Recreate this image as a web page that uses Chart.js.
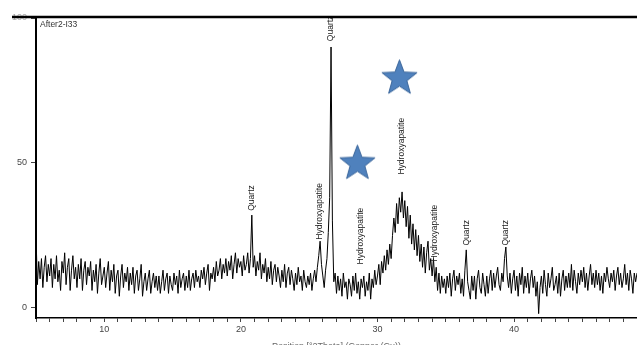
<!DOCTYPE html>
<html>
<head>
<meta charset="utf-8">
<script src="https://cdn.jsdelivr.net/npm/chart.js@4"></script>
<style>
  html, body { margin: 0; padding: 0; background: #fff; overflow: hidden; }
  canvas { display: block; }
</style>
</head>
<body>
<canvas id="xrdChart" width="637" height="352"></canvas>
<script>
// scan: 5.0 to 49.0 deg 2theta, 0.1 deg step
var scanStart = 5.0;
var scanStep = 0.1;

// counts, one row per degree
var counts = [
  25,8,16,10,17,7,14,18,9,15,
  11,17,7,15,10,18,9,13,6,16,
  12,19,8,14,17,6,13,18,10,14,
  7,15,10,17,6,13,16,8,14,11,
  16,6,13,9,15,5,12,17,8,11,
  14,7,12,16,6,13,9,15,5,11,
  13,4,11,15,7,12,9,14,6,12,
  8,14,5,11,13,6,10,15,4,9,
  12,6,10,13,5,9,12,7,11,6,
  11,5,9,13,6,10,12,5,11,8,
  6,12,8,11,5,13,7,10,12,6,
  11,7,13,6,10,12,7,13,9,11,
  7,13,10,14,8,12,15,6,12,10,
  14,9,16,11,13,17,10,15,12,17,
  11,16,13,18,10,15,19,12,17,14,
  16,11,18,13,15,19,12,17,32,14,
  18,11,16,13,19,10,15,12,17,9,
  14,10,16,8,13,15,9,14,11,7,
  13,9,15,7,12,14,8,13,10,6,
  12,8,14,9,11,6,13,9,7,11,
  8,12,6,10,13,9,14,18,23,15,
  11,7,13,17,26,38,90,30,9,12,
  5,11,6,10,4,12,7,9,3,10,
  8,4,11,6,12,5,9,3,10,7,
  11,4,9,6,12,3,10,7,13,8,
  11,15,8,16,12,18,13,20,15,22,
  17,25,31,26,36,29,38,33,40,31,
  37,28,35,24,32,22,29,20,27,18,
  25,16,22,14,21,12,19,23,13,17,
  11,17,9,14,6,12,5,11,7,10,
  5,11,7,12,4,10,13,6,11,8,
  12,5,10,4,13,20,9,6,3,11,
  6,11,3,10,13,7,5,12,8,4,
  11,5,10,13,6,12,7,11,14,8,
  6,12,9,17,21,11,7,12,5,10,
  13,6,11,4,12,8,14,5,11,7,
  12,5,10,13,7,11,4,9,-2,7,
  11,5,13,8,4,12,7,10,14,6,
  8,11,5,12,4,10,13,6,11,7,
  12,7,15,6,13,9,5,12,8,13,
  9,14,7,12,6,11,15,8,12,7,
  13,8,12,6,11,5,12,9,14,10,
  7,12,9,13,6,11,14,8,12,7,
  10,15,8,12,6,13,10,5,12,9,
  12
];

// phase labels: name, 2theta, count where the text starts
var phaseNames = ['Quartz', 'Hydroxyapatite', 'Quartz', 'Hydroxyapatite', 'Hydroxyapatite', 'Hydroxyapatite', 'Quartz', 'Quartz'];
var phasePos = [20.8, 25.8, 26.6, 28.8, 31.8, 34.2, 36.5, 39.4];
var phaseStart = [33.5, 23.5, 92, 15, 46, 16, 21.5, 21.5];

// blue stars
var starPos = [28.53, 31.61];
var starVal = [50.3, 79.7];

var yTicks = [0, 50, 100];
var xLabels = [10, 20, 30, 40];

var points = counts.map(function (c, i) {
  return { x: Math.round((scanStart + i * scanStep) * 10) / 10, y: c };
});
var stars = starPos.map(function (x, i) { return { x: x, y: starVal[i] }; });

// star image for the point style
function makeStar(R) {
  var c = document.createElement('canvas');
  var s = Math.ceil(R * 2 + 4);
  c.width = s; c.height = s;
  var g = c.getContext('2d');
  var r = R * 0.42;
  g.beginPath();
  for (var k = 0; k < 10; k++) {
    var rad = k % 2 === 0 ? R : r;
    var a = -Math.PI / 2 + k * Math.PI / 5;
    var px = s / 2 + rad * Math.cos(a);
    var py = s / 2 + 1.5 + rad * Math.sin(a);
    if (k === 0) g.moveTo(px, py); else g.lineTo(px, py);
  }
  g.closePath();
  g.fillStyle = '#4F81BD';
  g.fill();
  g.lineWidth = 1;
  g.strokeStyle = '#3A659A';
  g.stroke();
  return c;
}
var starImg = makeStar(18.5);

var labelPlugin = {
  id: 'phaseLabels',
  afterDatasetsDraw: function (chart) {
    var ctx = chart.ctx;
    var xs = chart.scales.x, ys = chart.scales.y;
    var area = chart.chartArea;
    ctx.save();
    ctx.beginPath();
    ctx.rect(area.left, area.top, area.right - area.left, area.bottom - area.top);
    ctx.clip();
    ctx.font = '8.5px "Liberation Sans", Arial, sans-serif';
    ctx.fillStyle = '#222';
    ctx.textAlign = 'left';
    ctx.textBaseline = 'middle';
    phaseNames.forEach(function (name, i) {
      ctx.save();
      ctx.translate(xs.getPixelForValue(phasePos[i]), ys.getPixelForValue(phaseStart[i]));
      ctx.rotate(-Math.PI / 2);
      ctx.fillText(name, 0, 0);
      ctx.restore();
    });
    ctx.restore();

    // sample name
    ctx.save();
    ctx.font = '8.5px "Liberation Sans", Arial, sans-serif';
    ctx.fillStyle = '#333';
    ctx.textBaseline = 'top';
    ctx.fillText('After2-I33', area.left + 4, area.top + 2);
    // thick top frame
    ctx.strokeStyle = '#000';
    ctx.lineWidth = 2.5;
    ctx.beginPath();
    ctx.moveTo(12, area.top - 1);
    ctx.lineTo(chart.width, area.top - 1);
    ctx.stroke();
    ctx.restore();
  }
};

var ctx = document.getElementById('xrdChart').getContext('2d');
new Chart(ctx, {
  type: 'line',
  data: {
    datasets: [{
      data: points,
      borderColor: '#000',
      borderWidth: 1,
      pointRadius: 0,
      tension: 0
    }, {
      type: 'scatter',
      data: stars,
      pointStyle: starImg,
      pointRadius: 18,
      clip: false
    }]
  },
  options: {
    responsive: false,
    animation: false,
    events: [],
    layout: { autoPadding: false, padding: { top: 18, left: 0, right: 0, bottom: 0 } },
    plugins: { legend: { display: false }, tooltip: { enabled: false } },
    scales: {
      x: {
        type: 'linear',
        min: 5,
        max: 49,
        afterFit: function (s) { s.height = 34; s.paddingLeft = 0; s.paddingRight = 0; },
        border: { color: '#000', width: 1.5 },
        grid: { drawOnChartArea: false, tickLength: 4, color: '#444' },
        ticks: {
          stepSize: 1,
          autoSkip: false,
          maxRotation: 0,
          padding: 2,
          color: '#444',
          font: { size: 9, family: '"Liberation Sans", Arial, sans-serif' },
          callback: function (v) { return xLabels.indexOf(v) >= 0 ? String(v) : ''; }
        },
        title: {
          display: true,
          text: 'Position [°2Theta] (Copper (Cu))',
          color: '#666',
          padding: 0,
          font: { size: 9, family: '"Liberation Sans", Arial, sans-serif' }
        }
      },
      y: {
        min: -3.5,
        max: 100,
        afterFit: function (s) { s.width = 36; },
        afterBuildTicks: function (s) { s.ticks = yTicks.map(function (v) { return { value: v }; }); },
        border: { color: '#000', width: 2 },
        grid: { drawOnChartArea: false, tickLength: 5, color: '#444' },
        ticks: {
          padding: 4,
          color: function (c) { return c.tick && c.tick.value === 100 ? '#aaa' : '#444'; },
          font: { size: 9, family: '"Liberation Sans", Arial, sans-serif' }
        }
      }
    }
  },
  plugins: [labelPlugin]
});
</script>
</body>
</html>
